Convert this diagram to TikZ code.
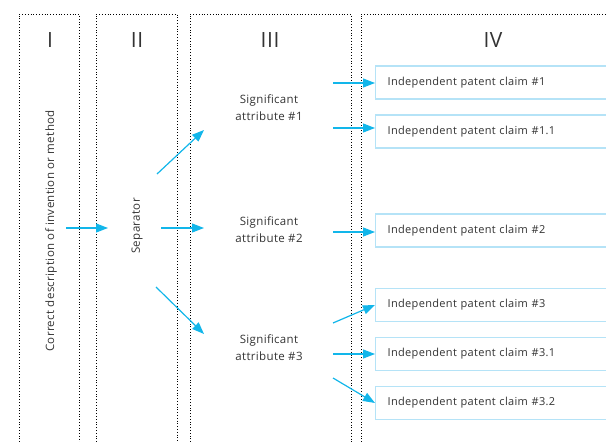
\documentclass[tikz,border=0pt]{standalone}
\usepackage{fontspec}
\setmainfont{Open Sans}[LetterSpace=3]
\usetikzlibrary{arrows.meta}
\definecolor{arrowc}{HTML}{12B6EA}
\definecolor{boxc}{HTML}{B5E3F7}
\definecolor{txtc}{HTML}{333333}
\tikzset{
  colline/.style={dotted, line width=0.8pt, black},
  flow/.style={draw=arrowc, line width=1.2pt, -{Triangle[length=12pt,width=9pt]}},
  claim/.style={draw=boxc, line width=1.4pt, fill=white, minimum height=33pt, text width=238pt, align=left, inner xsep=12pt, inner ysep=0pt, font=\fontsize{11}{13}\selectfont, text=txtc, anchor=west},
  numeral/.style={font=\fontsize{21}{24}\selectfont, text=txtc},
  attr/.style={align=center, font=\fontsize{11.5}{17}\selectfont, text=txtc},
  vert/.style={rotate=90, font=\fontsize{11.5}{13}\selectfont, text=txtc}
}
\begin{document}
\begin{tikzpicture}[x=1pt,y=-1pt]
\useasboundingbox (0,0) rectangle (606,442);
% columns
\draw[colline] (19,442) -- (19,14) -- (79,14) -- (79,442);
\draw[colline] (96,442) -- (96,14) -- (177,14) -- (177,442);
\draw[colline] (190,442) -- (190,14) -- (351,14) -- (351,442);
\draw[colline] (361,442) -- (361,14) -- (606,14);
% numerals
\node[numeral] (n1) at (50,40) {I};
\node[numeral] (n2) at (137,40) {II};
\node[numeral] (n3) at (270,40) {III};
\node[numeral] (n4) at (493,40) {IV};
% vertical texts
\node[vert] (desc) at (51,231) {Correct description of invention or method};
\node[vert] (sep) at (137,226) {Separator};
% attributes
\node[attr] (a1) at (269,108) {Significant\\attribute \#1};
\node[attr] (a2) at (269,230) {Significant\\attribute \#2};
\node[attr] (a3) at (269,348) {Significant\\attribute \#3};
% claims
\node[claim] (c1) at (375,82.5) {Independent patent claim \#1};
\node[claim] (c11) at (375,131.5) {Independent patent claim \#1.1};
\node[claim] (c2) at (375,230.5) {Independent patent claim \#2};
\node[claim] (c3) at (375,305) {Independent patent claim \#3};
\node[claim] (c31) at (375,354) {Independent patent claim \#3.1};
\node[claim] (c32) at (375,403) {Independent patent claim \#3.2};
% arrow endpoints
\coordinate (d0) at (66,228);
\coordinate (s1) at (108,228);
\coordinate (s0) at (161,228);
\coordinate (s0u) at (157,174);
\coordinate (s0d) at (156,287);
\coordinate (a1in) at (204,130);
\coordinate (a2in) at (204,228);
\coordinate (a3in) at (204,334);
\coordinate (a1o1) at (333,83);
\coordinate (a1o2) at (333,128);
\coordinate (a2o) at (333,232);
\coordinate (a3o1) at (333,323);
\coordinate (a3o2) at (333,354);
\coordinate (a3o3) at (333,378);
% arrows
\draw[flow] (d0) -- (s1);
\draw[flow] (s0) -- (a2in);
\draw[flow] (s0u) -- (a1in);
\draw[flow] (s0d) -- (a3in);
\draw[flow] (a1o1) -- (a1o1 -| c1.west);
\draw[flow] (a1o2) -- (a1o2 -| c11.west);
\draw[flow] (a2o) -- (a2o -| c2.west);
\draw[flow] (a3o1) -- (c3.west);
\draw[flow] (a3o2) -- (c31.west);
\draw[flow] (a3o3) -- (c32.west);
\end{tikzpicture}
\end{document}
